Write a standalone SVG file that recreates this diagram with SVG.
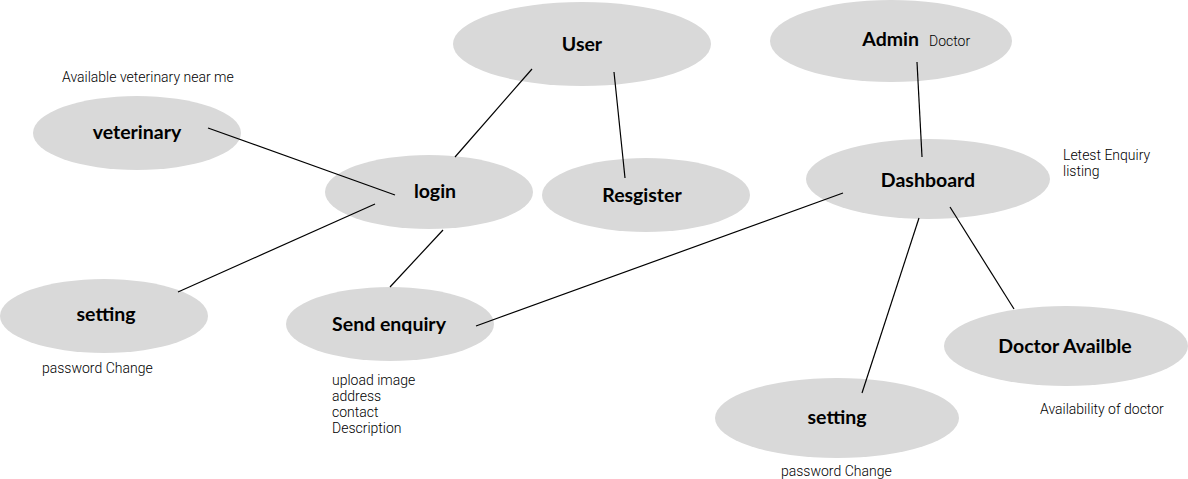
<svg xmlns="http://www.w3.org/2000/svg" width="1188" height="479" viewBox="0 0 1188 479">
<style>
.n{fill:#d9d9d9}
.t{font-family:Lato,"Open Sans",sans-serif;font-weight:bold;font-size:19.5px;fill:#000;text-anchor:middle;dominant-baseline:central}
.s{font-family:Roboto,"Liberation Sans",sans-serif;font-weight:300;font-size:14px;fill:#000}
.c line{stroke:#000;stroke-width:1.2}
</style>
<rect width="1188" height="479" fill="#fff"/>
<g id="user"><ellipse class="n" cx="582" cy="44" rx="129" ry="42"/><text class="t" x="582" y="43">User</text></g>
<g id="admin"><ellipse class="n" cx="891" cy="41" rx="121" ry="41"/><text class="t" x="919" y="38.5" style="text-anchor:end">Admin</text><text class="s" x="929" y="46">Doctor</text></g>
<g id="veterinary"><ellipse class="n" cx="137" cy="133" rx="104" ry="37"/><text class="t" x="137" y="131.5">veterinary</text><text class="s" x="62" y="82">Available veterinary near me</text></g>
<g id="login"><ellipse class="n" cx="429" cy="192" rx="104" ry="37"/><text class="t" x="435" y="190.5">login</text></g>
<g id="register"><ellipse class="n" cx="646" cy="195" rx="104" ry="37"/><text class="t" x="642" y="194.5">Resgister</text></g>
<g id="dashboard"><ellipse class="n" cx="928" cy="179" rx="122" ry="40"/><text class="t" x="928" y="179.5">Dashboard</text><text class="s" x="1063" y="160">Letest Enquiry</text><text class="s" x="1063" y="176">listing</text></g>
<g id="setting-left"><ellipse class="n" cx="104" cy="316" rx="104" ry="37"/><text class="t" x="106" y="313.5">setting</text><text class="s" x="42" y="373">password Change</text></g>
<g id="send-enquiry"><ellipse class="n" cx="390" cy="324" rx="104" ry="37"/><text class="t" x="389" y="323.5">Send enquiry</text><text class="s" x="332" y="385">upload image</text><text class="s" x="332" y="401">address</text><text class="s" x="332" y="417">contact</text><text class="s" x="332" y="433">Description</text></g>
<g id="doctor-available"><ellipse class="n" cx="1066" cy="346" rx="122" ry="40"/><text class="t" x="1065" y="345.5">Doctor Availble</text><text class="s" x="1040" y="414">Availability of doctor</text></g>
<g id="setting-right"><ellipse class="n" cx="837" cy="418" rx="122" ry="40"/><text class="t" x="837" y="416.5">setting</text><text class="s" x="781" y="476">password Change</text></g>
<g id="connectors" class="c">
<line x1="532" y1="69" x2="455" y2="157"/>
<line x1="614" y1="72" x2="625" y2="178"/>
<line x1="917" y1="62" x2="922" y2="157"/>
<line x1="208" y1="128" x2="395" y2="195"/>
<line x1="375" y1="204" x2="178" y2="292"/>
<line x1="443" y1="230" x2="390" y2="287"/>
<line x1="843" y1="193" x2="476" y2="326"/>
<line x1="919" y1="218" x2="862" y2="393"/>
<line x1="950" y1="207" x2="1014" y2="309"/>
</g>
</svg>
